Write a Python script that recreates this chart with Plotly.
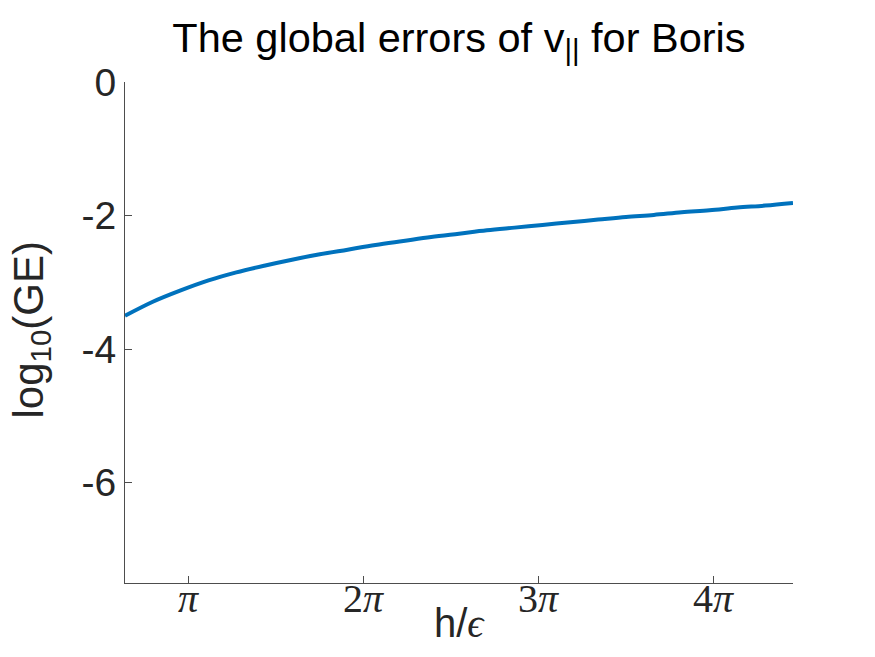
import plotly.graph_objects as go
import math

# Data (x = h/epsilon, y = log10(GE))
h_over_eps = [2.0, 2.5, 3.0, 3.5, 4.0, 4.5, 5.0, 5.5, 6.0, 6.5, 7.0, 7.5, 8.0,
              8.5, 9.0, 9.5, 10.0, 10.5, 11.0, 11.5, 12.0, 12.5, 13.0, 13.5, 14.0]
log10_ge = [-3.50, -3.29, -3.12, -2.97, -2.85, -2.75, -2.66, -2.58, -2.51, -2.44,
            -2.38, -2.32, -2.27, -2.22, -2.18, -2.14, -2.10, -2.06, -2.02, -1.99,
            -1.95, -1.92, -1.88, -1.85, -1.81]

x_tick_vals = [math.pi, 2 * math.pi, 3 * math.pi, 4 * math.pi]
x_tick_text = ["<i>π</i>", "2<i>π</i>", "3<i>π</i>", "4<i>π</i>"]
y_tick_vals = [-6, -4, -2, 0]
y_tick_text = ["-6", "-4", "-2", "0"]

fig = go.Figure()
fig.add_trace(go.Scatter(x=h_over_eps, y=log10_ge, mode="lines",
                         line=dict(color="#0072BD", width=4, shape="spline"),
                         showlegend=False))

axis_color = "#4d4d4d"

annotations = [
    dict(text=t, x=v, xref="x", yref="paper", y=0, yshift=9,
         xanchor="center", yanchor="top", showarrow=False,
         font=dict(family="Liberation Serif, serif", size=40, color="#262626"))
    for v, t in zip(x_tick_vals, x_tick_text)
]
annotations += [
    dict(text="h/<span style='font-family:Liberation Serif'><i>ϵ</i></span>",
         xref="paper", yref="paper", x=0.5, y=0, yshift=-16,
         xanchor="center", yanchor="top", showarrow=False,
         font=dict(size=40, color="#262626")),
    dict(text="log<sub>10</sub>(GE)", xref="paper", yref="paper",
         x=0, xshift=-94, y=0.5, yshift=2, textangle=-90,
         xanchor="center", yanchor="middle", showarrow=False,
         font=dict(size=42, color="#262626")),
]

fig.update_layout(
    width=875, height=657,
    margin=dict(l=125, r=82, t=82, b=74),
    paper_bgcolor="white", plot_bgcolor="white",
    font=dict(family="Liberation Sans, Arial, sans-serif", color="#262626"),
    title=dict(text="The global errors of v<sub>||</sub> for Boris",
               x=0.5245, xanchor="center", y=1 - 37 / 657, yanchor="middle",
               xref="container", yref="container",
               font=dict(size=41.5, color="black")),
    xaxis=dict(range=[2, 14], tickvals=x_tick_vals, showticklabels=False,
               showgrid=False, zeroline=False, showline=True, linecolor=axis_color,
               linewidth=1, ticks="inside", ticklen=7, tickcolor=axis_color,
               mirror=False),
    yaxis=dict(range=[-7.5, 0], tickvals=y_tick_vals, ticktext=y_tick_text,
               showgrid=False, zeroline=False, showline=True, linecolor=axis_color,
               linewidth=1, ticks="inside", ticklen=7, tickcolor=axis_color,
               tickfont=dict(size=39, color="#262626"), mirror=False),
    annotations=annotations,
)

fig.write_html("out.html")
